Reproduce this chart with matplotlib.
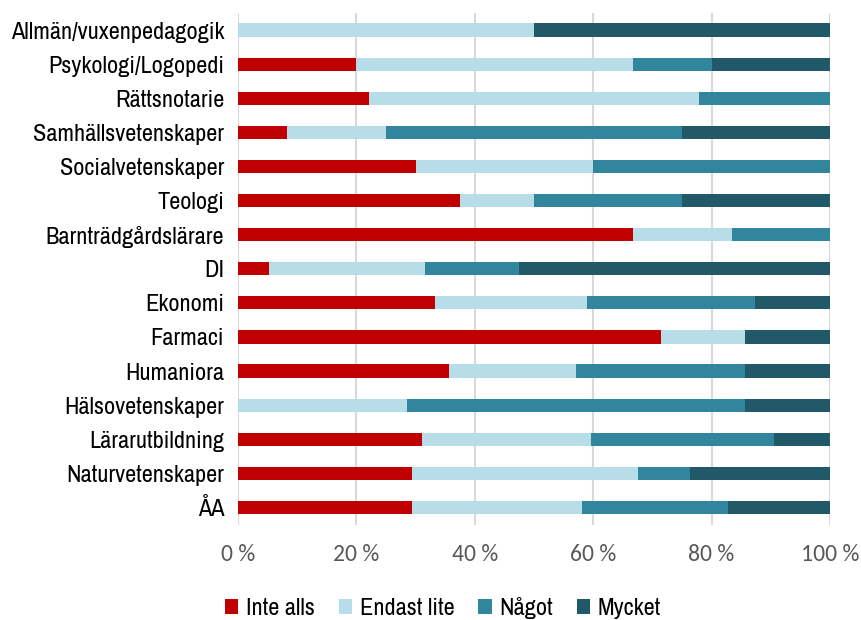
import matplotlib
matplotlib.use("Agg")
import matplotlib.pyplot as plt
import numpy as np

categories = ["Allmän/vuxenpedagogik", "Psykologi/Logopedi", "Rättsnotarie",
              "Samhällsvetenskaper", "Socialvetenskaper", "Teologi",
              "Barnträdgårdslärare", "DI", "Ekonomi", "Farmaci", "Humaniora",
              "Hälsovetenskaper", "Lärarutbildning", "Naturvetenskaper", "ÅA"]
inte_alls   = [0, 20.0, 22.2, 8.3, 30.0, 37.5, 66.7, 5.3, 33.3, 71.4, 35.7, 0, 31.0, 29.4, 29.4]
endast_lite = [50.0, 46.7, 55.6, 16.7, 30.0, 12.5, 16.7, 26.3, 25.6, 14.3, 21.4, 28.6, 28.6, 38.2, 28.7]
nagot       = [0, 13.3, 22.2, 50.0, 40.0, 25.0, 16.6, 15.8, 28.4, 0, 28.6, 57.1, 31.0, 8.8, 24.6]
mycket      = [50.0, 20.0, 0, 25.0, 0, 25.0, 0, 52.6, 12.7, 14.3, 14.3, 14.3, 9.4, 23.6, 17.3]
series_names = ["Inte alls", "Endast lite", "Något", "Mycket"]
colors = ["#C00000", "#B7DDE8", "#31859C", "#215968"]
xticks = [0, 20, 40, 60, 80, 100]

narrow = ["Archivo Narrow", "Liberation Sans", "DejaVu Sans"]
calibri = ["Carlito", "DejaVu Sans"]

fig = plt.figure(figsize=(8.61, 6.2), dpi=100)
ax = fig.add_axes([238/861, 1-524.5/620, (830-238)/861, (524.5-13)/620])

y = np.arange(len(categories))
left = np.zeros(len(categories))
for vals, name, c in zip([inte_alls, endast_lite, nagot, mycket], series_names, colors):
    v = np.array(vals)
    ax.barh(y, v, left=left, height=0.39, color=c, label=name, zorder=3)
    left += v

ax.set_xlim(0, 100)
ax.set_ylim(len(categories)-0.5, -0.5)
ax.set_yticks(y)
ax.set_yticklabels(categories, family=narrow, fontsize=17.5, color="black")
ax.set_xticks(xticks)
ax.set_xticklabels([f"{t} %" for t in xticks], family=calibri,
                   fontsize=17, color="#595959")
ax.tick_params(axis="both", length=0)
ax.tick_params(axis="y", pad=10)
ax.tick_params(axis="x", pad=14)
for s in ax.spines.values():
    s.set_visible(False)
ax.grid(axis="x", color="#D9D9D9", linewidth=1.5, zorder=0)
ax.set_axisbelow(True)

leg = fig.legend(loc="center", bbox_to_anchor=(443/861, 1-608/620), ncol=4, frameon=False,
                 prop={"family": narrow, "size": 17.5}, handlelength=0.55, handleheight=0.55,
                 handletextpad=0.3, columnspacing=1.0, borderaxespad=0, borderpad=0)

fig.savefig("out.png", dpi=100)
